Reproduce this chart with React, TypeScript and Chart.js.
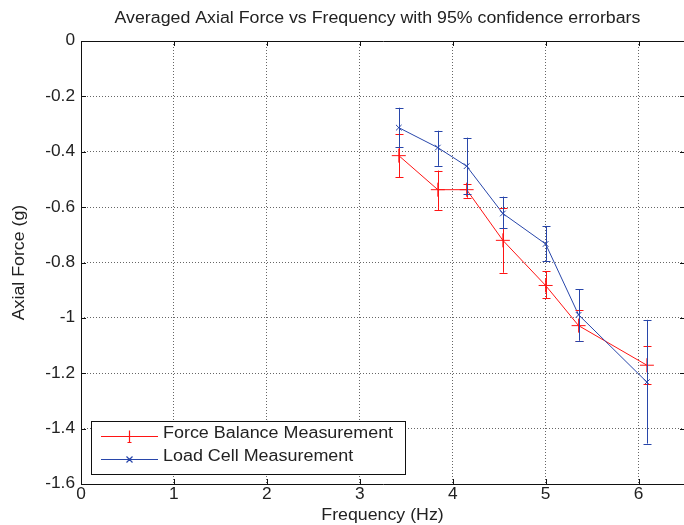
import React, { useEffect, useRef } from "react";
import { Chart, registerables } from "chart.js";

Chart.register(...registerables);

const frequency = [3.42, 3.84, 4.15, 4.54, 5.0, 5.355, 6.09];
const forceBalance = [-0.414, -0.537, -0.537, -0.72, -0.883, -1.028, -1.171];
const forceBalanceUpper = [-0.337, -0.468, -0.515, -0.603, -0.832, -0.971, -1.101];
const forceBalanceLower = [-0.492, -0.611, -0.566, -0.837, -0.929, -1.082, -1.24];
const loadCell = [-0.313, -0.385, -0.452, -0.623, -0.733, -0.989, -1.232];
const loadCellUpper = [-0.241, -0.324, -0.349, -0.562, -0.668, -0.896, -1.007];
const loadCellLower = [-0.382, -0.451, -0.553, -0.676, -0.794, -1.082, -1.454];

const xTicks = [0, 1, 2, 3, 4, 5, 6];
const yTicks = [0, -0.2, -0.4, -0.6, -0.8, -1, -1.2, -1.4, -1.6];
const xTickLabels = ["0", "1", "2", "3", "4", "5", "6"];
const yTickLabels = ["0", "-0.2", "-0.4", "-0.6", "-0.8", "-1", "-1.2", "-1.4", "-1.6"];

const titleText = "Averaged Axial Force vs Frequency with 95% confidence errorbars";
const xTitle = "Frequency (Hz)";
const yTitle = "Axial Force (g)";
const seriesNames = ["Force Balance Measurement", "Load Cell Measurement"];
const RED = "rgb(255,20,20)";
const BLUE = "rgb(40,70,170)";
const FONT = "'Liberation Sans', Arial, sans-serif";
const TEXT = "#222";

function drawText(ctx: any, text: string, x: number, y: number, align: string, size: number, sx: number, rot = 0) {
  ctx.save();
  ctx.translate(x, y);
  if (rot) ctx.rotate(rot);
  ctx.scale(sx, 1);
  ctx.font = `${size}px ${FONT}`;
  ctx.fillStyle = TEXT;
  ctx.textAlign = align;
  ctx.textBaseline = "middle";
  ctx.fillText(text, 0, 0);
  ctx.restore();
}

const errorBarPlugin = {
  id: "errorBars",
  afterDatasetsDraw(chart: any) {
    const { ctx, scales } = chart;
    const xs = scales.x, ys = scales.y;
    const sets = [
      { up: forceBalanceUpper, lo: forceBalanceLower, color: RED },
      { up: loadCellUpper, lo: loadCellLower, color: BLUE },
    ];
    ctx.save();
    ctx.lineWidth = 1;
    sets.forEach((s) => {
      ctx.strokeStyle = s.color;
      frequency.forEach((f, i) => {
        const x = Math.round(xs.getPixelForValue(f)) + 0.5;
        const y1 = ys.getPixelForValue(s.up[i]);
        const y2 = ys.getPixelForValue(s.lo[i]);
        ctx.beginPath();
        ctx.moveTo(x, y1);
        ctx.lineTo(x, y2);
        ctx.moveTo(x - 4, Math.round(y1) + 0.5);
        ctx.lineTo(x + 4, Math.round(y1) + 0.5);
        ctx.moveTo(x - 4, Math.round(y2) + 0.5);
        ctx.lineTo(x + 4, Math.round(y2) + 0.5);
        ctx.stroke();
      });
    });
    ctx.restore();
  },
};

const framePlugin = {
  id: "frame",
  afterDraw(chart: any) {
    const { ctx, chartArea, scales } = chart;
    const { left, right, top, bottom } = chartArea;
    ctx.save();
    ctx.setLineDash([]);
    ctx.strokeStyle = "#111";
    ctx.lineWidth = 1;
    ctx.beginPath();
    xTicks.forEach((v) => {
      const x = Math.round(scales.x.getPixelForValue(v)) + 0.5;
      ctx.moveTo(x, bottom);
      ctx.lineTo(x, bottom - 5);
      ctx.moveTo(x, top);
      ctx.lineTo(x, top + 5);
    });
    yTicks.forEach((v) => {
      const y = Math.round(scales.y.getPixelForValue(v)) + 0.5;
      ctx.moveTo(left, y);
      ctx.lineTo(left + 5, y);
      ctx.moveTo(right, y);
      ctx.lineTo(right - 5, y);
    });
    ctx.stroke();
    ctx.beginPath();
    ctx.rect(Math.round(left) + 0.5, Math.round(top) + 0.5, Math.round(right - left), Math.round(bottom - top));
    ctx.stroke();

    // tick labels
    xTicks.forEach((v, i) => {
      drawText(ctx, xTickLabels[i], scales.x.getPixelForValue(v), bottom + 11, "center", 16, 1.08);
    });
    yTicks.forEach((v, i) => {
      drawText(ctx, yTickLabels[i], left - 6, scales.y.getPixelForValue(v), "right", 16, 1.08);
    });

    // titles
    const cx = (left + 684) / 2;
    drawText(ctx, titleText, cx - 5, 19, "center", 16, 1.11);
    drawText(ctx, xTitle, cx, 516, "center", 16, 1.11);
    drawText(ctx, yTitle, 20, (top + bottom) / 2, "center", 16, 1.11, -Math.PI / 2);

    // legend
    const lx = 91, ly = 421, lw = 314, lh = 53;
    ctx.fillStyle = "#fff";
    ctx.fillRect(lx, ly, lw, lh);
    ctx.strokeStyle = "#111";
    ctx.lineWidth = 1;
    ctx.strokeRect(lx + 0.5, ly + 0.5, lw, lh);
    const rows = [
      { y: ly + 15, color: RED, name: seriesNames[0], marker: "plus" },
      { y: ly + 38, color: BLUE, name: seriesNames[1], marker: "x" },
    ];
    rows.forEach((r) => {
      const yy = Math.round(r.y) + 0.5;
      ctx.save();
      ctx.strokeStyle = r.color;
      ctx.lineWidth = 1.2;
      ctx.beginPath();
      ctx.moveTo(101, yy);
      ctx.lineTo(158, yy);
      const mx = 129.5;
      if (r.marker === "plus") {
        ctx.moveTo(mx, yy - 6);
        ctx.lineTo(mx, yy + 6);
        ctx.moveTo(mx - 2, yy + 6);
        ctx.lineTo(mx + 2, yy + 6);
      } else {
        ctx.moveTo(mx - 3, yy - 3);
        ctx.lineTo(mx + 3, yy + 3);
        ctx.moveTo(mx - 3, yy + 3);
        ctx.lineTo(mx + 3, yy - 3);
      }
      ctx.stroke();
      ctx.restore();
      drawText(ctx, r.name, 163, r.y - 2, "left", 16, 1.12);
    });
    ctx.restore();
  },
};

export default function App() {
  const ref = useRef<HTMLCanvasElement>(null);
  useEffect(() => {
    if (!ref.current) return;
    const chart = new Chart(ref.current, {
      type: "line",
      data: {
        datasets: [
          {
            label: seriesNames[0],
            data: frequency.map((f, i) => ({ x: f, y: forceBalance[i] })),
            borderColor: RED,
            backgroundColor: RED,
            borderWidth: 1,
            pointStyle: "cross",
            pointRadius: 7,
            pointBorderWidth: 1,
            fill: false,
            order: 2,
          },
          {
            label: seriesNames[1],
            data: frequency.map((f, i) => ({ x: f, y: loadCell[i] })),
            borderColor: BLUE,
            backgroundColor: BLUE,
            borderWidth: 1,
            pointStyle: "crossRot",
            pointRadius: 4,
            pointBorderWidth: 1,
            fill: false,
            order: 1,
          },
        ],
      },
      options: {
        animation: false,
        responsive: false,
        maintainAspectRatio: false,
        layout: { padding: { top: 41, right: 15, left: 0, bottom: 0 } },
        plugins: { legend: { display: false }, title: { display: false }, tooltip: { enabled: false } },
        scales: {
          x: {
            type: "linear",
            min: 0,
            max: 6.5,
            afterBuildTicks: (s: any) => {
              s.ticks = xTicks.map((v) => ({ value: v }));
            },
            afterFit: (s: any) => {
              s.height = 41;
            },
            grid: { color: "rgba(0,0,0,0.6)", drawTicks: false, lineWidth: 1 },
            border: { display: false, dash: [1, 2] },
            ticks: { display: false },
            title: { display: false },
          },
          y: {
            type: "linear",
            min: -1.6,
            max: 0,
            afterBuildTicks: (s: any) => {
              s.ticks = yTicks.map((v) => ({ value: v }));
            },
            afterFit: (s: any) => {
              s.width = 81;
            },
            grid: { color: "rgba(0,0,0,0.6)", drawTicks: false, lineWidth: 1 },
            border: { display: false, dash: [1, 2] },
            ticks: { display: false },
            title: { display: false },
          },
        },
      },
      plugins: [errorBarPlugin, framePlugin],
    });
    return () => chart.destroy();
  }, []);
  return (
    <div style={{ position: "fixed", left: 0, top: 0, width: 684, height: 525, overflow: "hidden", background: "#fff" }}>
      <canvas ref={ref} width={700} height={525} style={{ width: 700, height: 525, display: "block" }} />
    </div>
  );
}
